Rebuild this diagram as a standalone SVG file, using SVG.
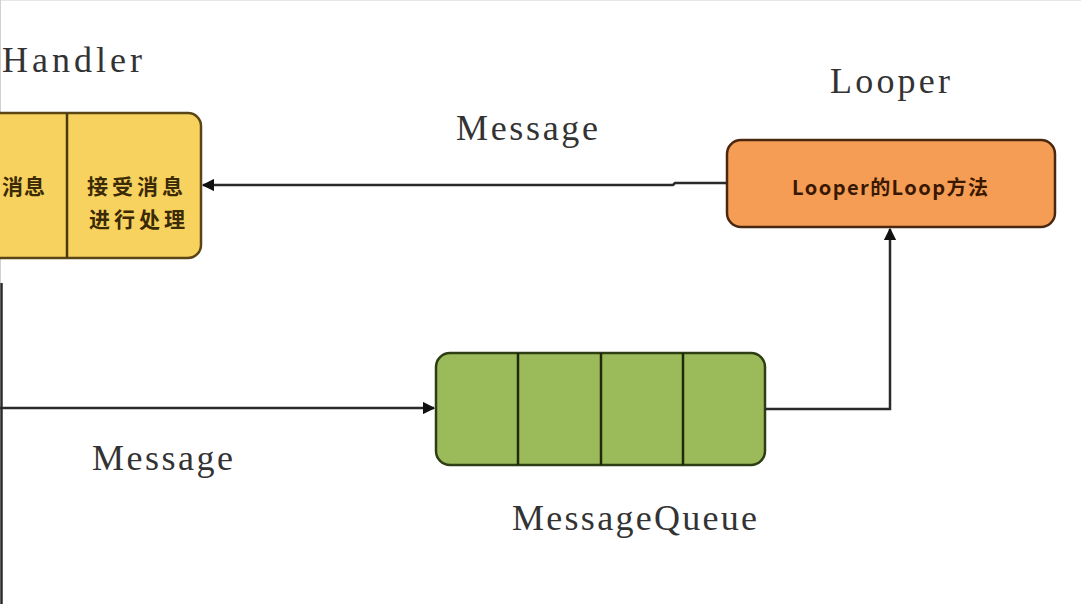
<svg xmlns="http://www.w3.org/2000/svg" width="1081" height="604" viewBox="0 0 1081 604">
<style>
.lbl{font-family:"Liberation Serif","DejaVu Serif",serif;font-size:36px;fill:#333}
.cjk{font-family:"Noto Sans CJK SC","Noto Sans",sans-serif;font-weight:bold;font-size:21px;letter-spacing:4px;fill:#3a2a05}
.conn{fill:none;stroke:#2a2a2a;stroke-width:2.5}
</style>
<defs>
<marker id="arr" viewBox="0 0 10 10" refX="9" refY="5" markerWidth="5" markerHeight="5" orient="auto" markerUnits="strokeWidth">
<path d="M0,0 L10,5 L0,10 z" fill="#111"/>
</marker>
</defs>
<rect width="1081" height="604" fill="#fff"/>
<line x1="0" y1="0.5" x2="1081" y2="0.5" stroke="#e6e6e6"/>
<line x1="0.5" y1="0" x2="0.5" y2="283" stroke="#d0d0d0"/>

<g id="handler">
<rect x="-20" y="113" width="221" height="145" rx="13" fill="#F8D25E" stroke="#5a4514" stroke-width="2.5"/>
<line x1="67" y1="113" x2="67" y2="258" stroke="#4a3a10" stroke-width="2.5"/>
<text class="cjk" x="2" y="194" style="letter-spacing:1px">消息</text>
<text class="cjk" x="87" y="194">接受消息</text>
<text class="cjk" x="89" y="227">进行处理</text>
<text class="lbl" x="2" y="72" textLength="140" lengthAdjust="spacing">Handler</text>
</g>

<g id="looper">
<rect x="727" y="140" width="328" height="87" rx="14" fill="#F59D55" stroke="#4a2810" stroke-width="2.5"/>
<text class="cjk" x="792" y="195" textLength="196" lengthAdjust="spacing" style="font-size:20px;letter-spacing:0;fill:#3a1800">Looper的Loop方法</text>
<text class="lbl" x="830" y="93" textLength="120" lengthAdjust="spacing">Looper</text>
</g>

<g id="messagequeue">
<rect x="436" y="353" width="329" height="112" rx="14" fill="#9BBB5B" stroke="#2e3e14" stroke-width="2.5"/>
<line x1="518" y1="353" x2="518" y2="465" stroke="#1e2a0a" stroke-width="2.5"/>
<line x1="601" y1="353" x2="601" y2="465" stroke="#1e2a0a" stroke-width="2.5"/>
<line x1="683" y1="353" x2="683" y2="465" stroke="#1e2a0a" stroke-width="2.5"/>
<text class="lbl" x="512" y="530" textLength="245" lengthAdjust="spacing">MessageQueue</text>
</g>

<g id="connectors">
<path class="conn" d="M727,183 L675,183 L673,185 L203,185" stroke="#555" marker-end="url(#arr)"/>
<path class="conn" d="M1.5,604 L1.5,283"/>
<path class="conn" d="M0,408 L434,408" marker-end="url(#arr)"/>
<path class="conn" d="M765,409 L890,409 L890,229" marker-end="url(#arr)"/>
<text class="lbl" x="456" y="140" textLength="142" lengthAdjust="spacing">Message</text>
<text class="lbl" x="92" y="470" textLength="141" lengthAdjust="spacing">Message</text>
</g>
</svg>
